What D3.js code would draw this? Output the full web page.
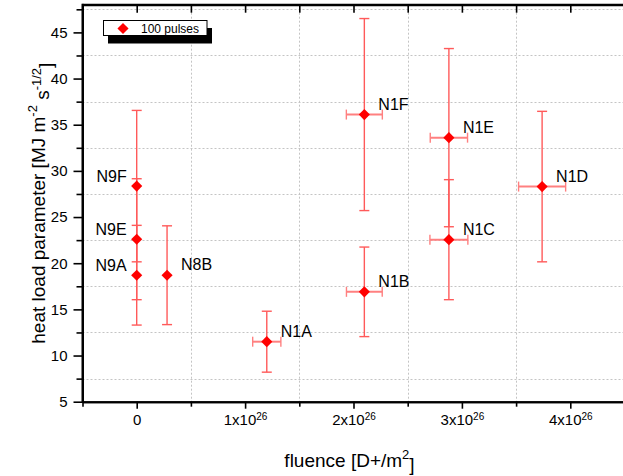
<!DOCTYPE html>
<html>
<head>
<meta charset="utf-8">
<script src="https://cdn.jsdelivr.net/npm/d3@7"></script>
<style>
    body { margin: 0; background: #fff; }
    svg { display: block; font-family: "Liberation Sans", Arial, sans-serif; }
</style>
</head>
<body>
<svg id="chart" width="623" height="476"></svg>
<script>
// sample names, fluence in units of 1e26 D+/m2, heat load parameter in MJ m^-2 s^-1/2
const labels = ["N9F", "N9E", "N9A", "N8B", "N1A", "N1B", "N1F", "N1E", "N1C", "N1D"];
const fluence = [0, 0, 0, 0.28, 1.2, 2.1, 2.1, 2.88, 2.88, 3.74];
const fluenceErr = [0, 0, 0, 0, 0.13, 0.165, 0.166, 0.172, 0.175, 0.217];
const heatLoad = [28.35, 22.6, 18.7, 18.7, 11.5, 16.9, 36.1, 33.6, 22.55, 28.3];
const heatLoadErr = [8.2, 6.55, 5.4, 5.35, 3.3, 4.85, 10.4, 9.65, 6.5, 8.15];

const xTicks = [0, 1, 2, 3, 4];
const xMinor = [-0.5, 0.5, 1.5, 2.5, 3.5];
const yTicks = [5, 10, 15, 20, 25, 30, 35, 40, 45];
const yMinor = [7.5, 12.5, 17.5, 22.5, 27.5, 32.5, 37.5, 42.5, 47.5];
const legendLabel = "100 pulses";

const svg = d3.select("#chart");

const x = d3.scaleLinear().domain([-0.5, 4.5]).range([82.5, 624.5]);
const y = d3.scaleLinear().domain([5, 48]).range([401.7, 4.7]);

const plotLeft = x.range()[0], plotRight = x.range()[1];
const plotTop = y.range()[1], plotBottom = y.range()[0];

// grid (sits on the minor ticks, as in the original)
const grid = svg.append("g")
    .attr("stroke", "#c4c4c4")
    .attr("stroke-dasharray", "2,2")
    .attr("stroke-width", 1);

grid.selectAll(".gx")
    .data(xMinor.filter(d => d > -0.5))
    .join("line")
    .attr("x1", d => Math.round(x(d)) + 0.5)
    .attr("x2", d => Math.round(x(d)) + 0.5)
    .attr("y1", plotTop)
    .attr("y2", plotBottom);

grid.selectAll(".gy")
    .data(yMinor)
    .join("line")
    .attr("y1", d => Math.round(y(d)) + 0.5)
    .attr("y2", d => Math.round(y(d)) + 0.5)
    .attr("x1", plotLeft)
    .attr("x2", plotRight);

// axes
const supText = (sel, base, sup) => {
    sel.text(null);
    sel.append("tspan").text(base);
    if (sup) {
        sel.append("tspan").attr("dy", "-0.55em").attr("font-size", "10px").text(sup);
    }
};

const xAxis = svg.append("g")
    .attr("transform", `translate(0,${plotBottom})`)
    .call(d3.axisBottom(x).tickValues(xTicks).tickSize(7).tickSizeOuter(0).tickPadding(6)
        .tickFormat(d => d === 0 ? "0" : `${d}x10`));
xAxis.selectAll(".tick text")
    .attr("font-size", "15px")
    .attr("font-family", "Liberation Sans, Arial, sans-serif")
    .each(function (d) {
        if (d !== 0) supText(d3.select(this), `${d}x10`, "26");
    });

svg.append("g")
    .attr("transform", `translate(0,${plotBottom})`)
    .call(d3.axisBottom(x).tickValues(xMinor).tickSize(5).tickSizeOuter(0).tickFormat(""));

// ticks along the top, pointing in
svg.append("g")
    .attr("transform", `translate(0,${plotTop})`)
    .call(d3.axisBottom(x).tickValues(xTicks.concat(xMinor.filter(d => d > -0.5))).tickSize(8).tickSizeOuter(0).tickFormat(""));

const yAxis = svg.append("g")
    .attr("transform", `translate(${plotLeft},0)`)
    .call(d3.axisLeft(y).tickValues(yTicks).tickSize(9).tickSizeOuter(0).tickPadding(6));
yAxis.selectAll(".tick text")
    .attr("font-size", "15px")
    .attr("font-family", "Liberation Sans, Arial, sans-serif");

svg.append("g")
    .attr("transform", `translate(${plotLeft},0)`)
    .call(d3.axisLeft(y).tickValues(yMinor).tickSize(6).tickSizeOuter(0).tickFormat(""));

svg.selectAll(".domain").attr("stroke", "#000").attr("stroke-width", 2);
svg.selectAll(".tick line").attr("stroke", "#000").attr("stroke-width", 1.6);

// frame lines
svg.append("line")
    .attr("x1", plotLeft).attr("x2", plotRight)
    .attr("y1", plotTop).attr("y2", plotTop)
    .attr("stroke", "#000").attr("stroke-width", 2);
svg.append("line")
    .attr("x1", plotLeft).attr("x2", plotLeft)
    .attr("y1", plotTop - 1).attr("y2", plotBottom + 1)
    .attr("stroke", "#000").attr("stroke-width", 2);

// axis titles
const yTitle = svg.append("text")
    .attr("transform", `translate(45,${(plotTop + plotBottom) / 2}) rotate(-90)`)
    .attr("text-anchor", "middle")
    .attr("font-size", "19px");
yTitle.append("tspan").text("heat load parameter [MJ m");
yTitle.append("tspan").attr("dy", "-0.6em").attr("font-size", "13px").text("-2");
yTitle.append("tspan").attr("dy", "0.6em").text(" s");
yTitle.append("tspan").attr("dy", "-0.6em").attr("font-size", "13px").text("-1/2");
yTitle.append("tspan").attr("dy", "0.6em").text("]");

const xTitle = svg.append("text")
    .attr("x", (plotLeft + plotRight) / 2 - 4)
    .attr("y", 467)
    .attr("text-anchor", "middle")
    .attr("font-size", "19px");
xTitle.append("tspan").text("fluence [D+/m");
xTitle.append("tspan").attr("dy", "-0.6em").attr("font-size", "13px").text("2");
xTitle.append("tspan").attr("dy", "0.6em").text("]");

// data
const points = labels.map((name, i) => ({
    name: name,
    fx: fluence[i],
    fxe: fluenceErr[i],
    hl: heatLoad[i],
    hle: heatLoadErr[i]
}));

const bars = svg.append("g");

// horizontal error bars
points.filter(d => d.fxe > 0).forEach(d => {
    const g = bars.append("g").attr("stroke", "#ff8080").attr("stroke-width", 2);
    g.append("line")
        .attr("x1", x(d.fx - d.fxe)).attr("x2", x(d.fx + d.fxe))
        .attr("y1", y(d.hl)).attr("y2", y(d.hl));
    [d.fx - d.fxe, d.fx + d.fxe].forEach(v => {
        g.append("line")
            .attr("x1", x(v)).attr("x2", x(v))
            .attr("y1", y(d.hl) - 5).attr("y2", y(d.hl) + 5)
            .attr("stroke-width", 1.4);
    });
});

// vertical error bars
points.forEach(d => {
    const g = bars.append("g").attr("stroke", "#ff5a5a").attr("stroke-width", 1.4);
    g.append("line")
        .attr("x1", x(d.fx)).attr("x2", x(d.fx))
        .attr("y1", y(d.hl - d.hle)).attr("y2", y(d.hl + d.hle));
    [d.hl - d.hle, d.hl + d.hle].forEach(v => {
        g.append("line")
            .attr("x1", x(d.fx) - 5).attr("x2", x(d.fx) + 5)
            .attr("y1", y(v)).attr("y2", y(v));
    });
});

const diamond = d3.symbol().type(d3.symbolSquare).size(62);

svg.append("g")
    .selectAll("path")
    .data(points)
    .join("path")
    .attr("d", diamond)
    .attr("fill", "#ff0000")
    .attr("transform", d => `translate(${x(d.fx)},${y(d.hl)}) rotate(45)`);

svg.append("g")
    .selectAll("text")
    .data(points)
    .join("text")
    .attr("font-size", "16px")
    .attr("fill", "#000")
    .attr("text-anchor", d => d.fx === 0 ? "end" : "start")
    .attr("x", d => d.fx === 0 ? x(d.fx) - 10 : x(d.fx) + 14)
    .attr("y", d => d.fx === 0 ? y(d.hl) - 4 : y(d.hl) - 5)
    .text(d => d.name);

// legend with drop shadow
const legend = svg.append("g");
legend.append("rect")
    .attr("x", 108).attr("y", 28)
    .attr("width", 104).attr("height", 15.5)
    .attr("fill", "#000");
legend.append("rect")
    .attr("x", 103.5).attr("y", 20.5)
    .attr("width", 103.5).attr("height", 15)
    .attr("fill", "#fff")
    .attr("stroke", "#000")
    .attr("stroke-width", 1);
legend.append("path")
    .attr("d", diamond)
    .attr("fill", "#ff0000")
    .attr("transform", "translate(123,28.5) rotate(45)");
legend.append("text")
    .attr("x", 141).attr("y", 33)
    .attr("font-size", "12px")
    .text(legendLabel);
</script>
</body>
</html>
